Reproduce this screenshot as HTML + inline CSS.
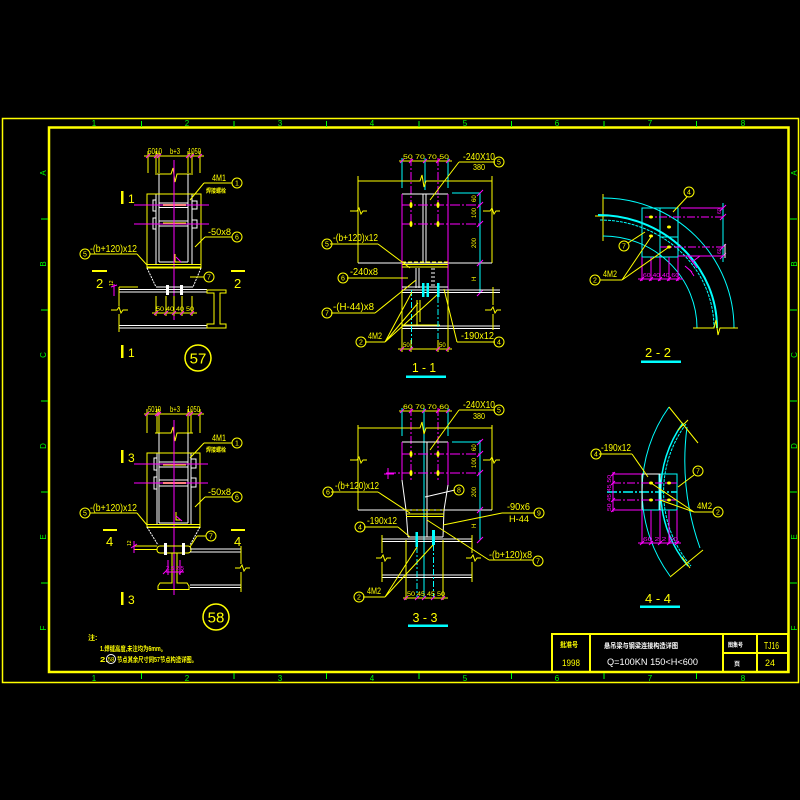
<!DOCTYPE html>
<html><head><meta charset="utf-8"><style>
html,body{margin:0;padding:0;background:#000;}
svg{display:block}
text{font-family:"Liberation Sans","Noto Sans CJK SC",sans-serif;}
</style></head><body>
<svg width="800" height="800" viewBox="0 0 800 800" xmlns="http://www.w3.org/2000/svg">
<rect width="800" height="800" fill="#000"/>

<!-- FRAME -->
<g fill="none" stroke="#ff0">
<rect x="2.5" y="118.5" width="796" height="564" stroke-width="1.5"/>
<rect x="49" y="127.5" width="739.5" height="544.5" stroke-width="2.5"/>
</g>
<g stroke="#0f0" stroke-width="1">
<path d="M141.5 121V127M234 121V127M326.5 121V127M419 121V127M511.5 121V127M604 121V127M696.5 121V127"/>
<path d="M141.5 673V679M234 673V679M326.5 673V679M419 673V679M511.5 673V679M604 673V679M696.5 673V679"/>
<path d="M41 219H48M41 310H48M41 401H48M41 492H48M41 583H48"/>
<path d="M790 219H797M790 310H797M790 401H797M790 492H797M790 583H797"/>
</g>
<g fill="#0f0" font-size="8" text-anchor="middle">
<text x="94" y="126">1</text><text x="187" y="126">2</text><text x="280" y="126">3</text><text x="372" y="126">4</text><text x="465" y="126">5</text><text x="557" y="126">6</text><text x="650" y="126">7</text><text x="743" y="126">8</text>
<text x="94" y="681">1</text><text x="187" y="681">2</text><text x="280" y="681">3</text><text x="372" y="681">4</text><text x="465" y="681">5</text><text x="557" y="681">6</text><text x="650" y="681">7</text><text x="743" y="681">8</text>
<text transform="translate(46,173) rotate(-90)">A</text><text transform="translate(46,264) rotate(-90)">B</text><text transform="translate(46,355) rotate(-90)">C</text><text transform="translate(46,446) rotate(-90)">D</text><text transform="translate(46,537) rotate(-90)">E</text><text transform="translate(46,628) rotate(-90)">F</text>
<text transform="translate(797,173) rotate(-90)">A</text><text transform="translate(797,264) rotate(-90)">B</text><text transform="translate(797,355) rotate(-90)">C</text><text transform="translate(797,446) rotate(-90)">D</text><text transform="translate(797,537) rotate(-90)">E</text><text transform="translate(797,628) rotate(-90)">F</text>
</g>

<!-- TITLE BLOCK -->
<g fill="none" stroke="#ff0" stroke-width="2">
<rect x="552" y="634" width="236" height="38"/>
<path d="M590 634V672M723 634V672M757 634V672M723 653H788"/>
</g>
<g font-weight="bold">
<text x="560" y="647" font-size="7" fill="#ff0" textLength="18" lengthAdjust="spacingAndGlyphs">批准号</text>
<text x="562" y="666" font-size="9" fill="#ff0" font-weight="normal" textLength="18" lengthAdjust="spacingAndGlyphs">1998</text>
<text x="604" y="648" font-size="7" fill="#fff" textLength="74" lengthAdjust="spacingAndGlyphs">悬吊梁与钢梁连接构造详图</text>
<text x="607" y="665" font-size="9" fill="#fff" font-weight="normal" textLength="91" lengthAdjust="spacingAndGlyphs">Q=100KN   150&lt;H&lt;600</text>
<text x="728" y="647" font-size="6" fill="#fff" textLength="15" lengthAdjust="spacingAndGlyphs">图集号</text>
<text x="764" y="649" font-size="10" fill="#ff0" font-weight="normal" textLength="15" lengthAdjust="spacingAndGlyphs">TJ16</text>
<text x="734" y="666" font-size="6" fill="#fff">页</text>
<text x="765" y="666" font-size="9" fill="#ff0" font-weight="normal" textLength="10" lengthAdjust="spacingAndGlyphs">24</text>
</g>

<!-- NOTES -->
<g fill="#ff0" font-weight="bold">
<text x="88" y="640" font-size="7">注:</text>
<text x="100" y="651" font-size="7" textLength="66" lengthAdjust="spacingAndGlyphs">1.焊缝高度,未注均为6mm。</text>
<text x="100" y="662" font-size="7" textLength="8" lengthAdjust="spacingAndGlyphs">2.</text>
<text x="117" y="662" font-size="7" textLength="80" lengthAdjust="spacingAndGlyphs">节点其余尺寸同57节点构造详图。</text>
</g>
<circle cx="111" cy="659" r="4.5" fill="none" stroke="#fff" stroke-width="1"/>
<text x="111" y="661.5" font-size="6" fill="#ff0" text-anchor="middle">58</text>

<!-- ============ DETAIL 57 ============ -->
<g fill="none" stroke-width="1">
<path stroke="#ff0" d="M144 156H204M148 151V173M156 151V173M159 151V173M188 151V173M192 151V173M200 151V173"/>
<path stroke="#f0f" d="M146 158L150 154M154 158L158 154M157 158L161 154M186 158L190 154M190 158L194 154M198 158L202 154"/>
<path stroke="#ff0" d="M155 174H171L173 168L175 182L177 174H193"/>
<path stroke="#fff" d="M159 174V262M188 174V262M156 194V265M192 194V265"/>
<rect x="147" y="194" width="54" height="73" stroke="#ff0"/>
<path stroke="#fff" d="M159 203H188M159 207.5H188M159 221H188M159 226H188M159 262H188"/>
<path stroke="#ff0" stroke-width="2" d="M163 205H186M163 223.5H186"/>
<path stroke="#fff" d="M156 200H153V211H156M156 218H153V229H156M192 201H197V209H192M192 220H197V228H192"/>
<path stroke="#f0f" d="M134 205H209M134 224H209M174 160V320"/>
<rect x="147" y="264.5" width="54" height="3.5" stroke="#ff0"/>
<path stroke="#fff" stroke-dasharray="2 1" d="M147 268L156 287M201 268L193 287"/>
<path stroke="#fff" d="M156 287H193M119 289.5H207M119 292H207M119 325.5H207M119 328H207"/>
<path stroke="#ff0" d="M119 287V306M111 310H117L119 307L121 313L123 310H128M119 314V332M119 287H138"/>
<path stroke="#ff0" d="M207 290H226V293H220V324H226V328H207V324H214V293H207Z"/>
<path stroke="#f0f" d="M114 284V296M111 287L117 285"/>
<path stroke="#ff0" d="M152 313H197M156 296V316M166 296V316M174 296V316M182 296V316M192 296V316"/>
<path stroke="#f0f" d="M154 315L158 311M164 315L168 311M172 315L176 311M180 315L184 311M190 315L194 311"/>
<path stroke="#ff0" d="M204 183H232L232 183M204 183L190 200M205 237H232M205 237L195 247M137 254H90M137 254L147 265M190 277H204M175 254V262H180"/>
<path stroke="#f0f" d="M176 257L181 262"/>
<path stroke="#ff0" stroke-width="2" d="M92 271H107M231 271H245"/>
<circle cx="237" cy="183" r="5" stroke="#ff0"/>
<circle cx="237" cy="237" r="5" stroke="#ff0"/>
<circle cx="85" cy="254" r="5" stroke="#ff0"/>
<circle cx="209" cy="277" r="5" stroke="#ff0"/>
<circle cx="198" cy="358" r="13" stroke="#ff0" stroke-width="1.5"/>
</g>
<rect x="166" y="285" width="3" height="10" fill="#fff"/>
<rect x="180" y="285" width="3" height="10" fill="#fff"/>
<rect x="121" y="191" width="2.5" height="13" fill="#ff0"/>
<rect x="121" y="345" width="2.5" height="13" fill="#ff0"/>
<g fill="#ff0">
<text x="148" y="154" font-size="8" textLength="14" lengthAdjust="spacingAndGlyphs">5010</text>
<text x="170" y="154" font-size="8" textLength="10" lengthAdjust="spacingAndGlyphs">b+3</text>
<text x="188" y="154" font-size="8" textLength="13" lengthAdjust="spacingAndGlyphs">1050</text>
<text x="156" y="311" font-size="6" textLength="38" lengthAdjust="spacingAndGlyphs">50 40 40 50</text>
<text x="128" y="203" font-size="12">1</text>
<text x="128" y="357" font-size="12">1</text>
<text x="96" y="288" font-size="13">2</text>
<text x="234" y="288" font-size="13">2</text>
<text x="212" y="181" font-size="9" textLength="14" lengthAdjust="spacingAndGlyphs">4M1</text>
<text x="206" y="193" font-size="6" font-weight="bold" textLength="20" lengthAdjust="spacingAndGlyphs">焊接螺栓</text>
<text x="208" y="235" font-size="9" textLength="23" lengthAdjust="spacingAndGlyphs">-50x8</text>
<text x="90" y="252" font-size="10" textLength="47" lengthAdjust="spacingAndGlyphs">-(b+120)x12</text>
<text transform="translate(113,286) rotate(-90)" font-size="5">12</text>
<text x="198" y="363.5" font-size="15" text-anchor="middle">57</text>
<g font-size="7" text-anchor="middle"><text x="237" y="185.5">1</text><text x="237" y="239.5">6</text><text x="85" y="256.5">5</text><text x="209" y="279.5">7</text></g>
</g>

<!-- ============ DETAIL 58 ============ -->
<g fill="none" stroke-width="1">
<path stroke="#ff0" d="M144 414H204M147 409V433M157 409V433M159 409V433M188 409V433M191 409V433M200 409V433"/>
<path stroke="#f0f" d="M145 416L149 412M155 416L159 412M157 416L161 412M186 416L190 412M189 416L193 412M198 416L202 412"/>
<path stroke="#ff0" d="M155 433H171L173 427L175 441L177 433H193"/>
<path stroke="#fff" d="M159 433V523M188 433V523M157 453V525M191 453V525"/>
<rect x="147" y="453" width="53" height="74" stroke="#ff0"/>
<path stroke="#fff" d="M159 462H188M159 467H188M159 480H188M159 486H188M159 523H188"/>
<path stroke="#ff0" stroke-width="2" d="M163 464.5H186M163 483H186"/>
<path stroke="#fff" d="M157 458H154V470H157M157 477H154V489H157M191 459H196V468H191M191 478H196V487H191"/>
<path stroke="#f0f" d="M134 464H208M134 483H208M174 420V595"/>
<rect x="147" y="524.5" width="53" height="3" stroke="#ff0"/>
<path stroke="#fff" stroke-dasharray="2 1" d="M147 527L158 545M200 527L190 545"/>
<rect x="157" y="546" width="34" height="7" rx="3" stroke="#ff0"/>
<path stroke="#fff" d="M190 549H241M190 552H241M190 585H241M190 587.5H241"/>
<path stroke="#ff0" d="M241 546V564M235 568H240L242 565L244 571L246 568H250M241 572V592M134 546H157M134 549.5H157"/>
<path stroke="#ff0" d="M172 553V583H160L158 586V589.5H189V586L187 583H177V553"/>
<path stroke="#f0f" d="M134 541V553M131 548L137 544M166 572H184M168 560V575M180 560V575M163 574L167 570M179 574L183 570"/>
<path stroke="#ff0" d="M204 443H232M204 443L190 458M205 497H232M205 497L195 507M137 513H90M137 513L147 525M197 536H206M197 536L190 547M176 512V520H181"/>
<path stroke="#f0f" d="M176 516L182 521"/>
<path stroke="#ff0" stroke-width="2" d="M103 530H117M231 530H245"/>
<circle cx="237" cy="443" r="5" stroke="#ff0"/>
<circle cx="237" cy="497" r="5" stroke="#ff0"/>
<circle cx="85" cy="513" r="5" stroke="#ff0"/>
<circle cx="211" cy="536" r="5" stroke="#ff0"/>
<circle cx="216" cy="617" r="13" stroke="#ff0" stroke-width="1.5"/>
</g>
<rect x="164" y="543" width="3" height="12" fill="#fff"/>
<rect x="182" y="543" width="3" height="12" fill="#fff"/>
<rect x="121" y="450" width="2.5" height="13" fill="#ff0"/>
<rect x="121" y="592" width="2.5" height="13" fill="#ff0"/>
<g fill="#ff0">
<text x="148" y="412" font-size="8" textLength="13" lengthAdjust="spacingAndGlyphs">5010</text>
<text x="170" y="412" font-size="8" textLength="10" lengthAdjust="spacingAndGlyphs">b+3</text>
<text x="187" y="412" font-size="8" textLength="13" lengthAdjust="spacingAndGlyphs">1050</text>
<text x="128" y="462" font-size="12">3</text>
<text x="128" y="604" font-size="12">3</text>
<text x="106" y="546" font-size="13">4</text>
<text x="234" y="546" font-size="13">4</text>
<text x="212" y="441" font-size="9" textLength="14" lengthAdjust="spacingAndGlyphs">4M1</text>
<text x="206" y="452" font-size="6" font-weight="bold" textLength="20" lengthAdjust="spacingAndGlyphs">焊接螺栓</text>
<text x="208" y="495" font-size="9" textLength="23" lengthAdjust="spacingAndGlyphs">-50x8</text>
<text x="90" y="511" font-size="10" textLength="47" lengthAdjust="spacingAndGlyphs">-(b+120)x12</text>
<text transform="translate(131,546) rotate(-90)" font-size="5">12</text>
<text x="216" y="622.5" font-size="15" text-anchor="middle">58</text>
<g font-size="7" text-anchor="middle"><text x="237" y="445.5">1</text><text x="237" y="499.5">6</text><text x="85" y="515.5">5</text><text x="211" y="538.5">7</text></g>
</g>
<text x="166" y="570" font-size="5" fill="#f0f" textLength="18" lengthAdjust="spacingAndGlyphs">2.5 2.5</text>

<!-- ============ SECTION 1-1 ============ -->
<g fill="none" stroke-width="1">
<path stroke="#ff0" d="M399 161H452"/>
<path stroke="#0ff" d="M402 158V188M448 158V188M425 158V190"/>
<path stroke="#f0f" stroke-dasharray="8 2 2 2" d="M411 158V228M438 158V228"/>
<path stroke="#f0f" d="M400 163L404 159M409 163L413 159M423 163L427 159M436 163L440 159M446 163L450 159"/>
<path stroke="#ff0" d="M358 176V263M358 181H420L422 175L424 187L426 181H492M492 176V263M350 211H357L359 208L361 214L363 211H367M483 211H490L492 208L494 214L496 211H500"/>
<path stroke="#fff" d="M358 263H492M402 194H448M423 194V263M426 194V263"/>
<path stroke="#f0f" d="M402 194V290M448 194V290"/>
<path stroke="#f0f" stroke-dasharray="10 2 2 2" d="M402 205H482M402 224H482"/>
<path stroke="#0ff" d="M480 193V293M452 193H480"/>
<path stroke="#f0f" d="M477 196L483 190M477 208L483 202M477 227L483 221M477 266L483 260M477 296L483 290"/>
<path stroke="#ff0" d="M402 264.5H448M402 267H448"/>
<path stroke="#ff0" stroke-dasharray="4 2" d="M402 262H448"/>
<path stroke="#fff" d="M402 287H448M402 290H500M402 292.5H500M402 326H500M402 328.5H500M416 268V288M419 268V288"/>
<path stroke="#fff" stroke-dasharray="2 2" d="M432 268V288M434 268V288"/>
<path stroke="#ff0" d="M402 290V352M448 290V352M493 287V305M485 310H491L493 307L495 313L497 310H501M493 314V330M417 300V325H440M420 300V322M402 325H417"/>
<path stroke="#0ff" stroke-dasharray="6 2 2 2" d="M411.5 290V350M438 297V350"/>
<path stroke="#ff0" d="M398 349H452M411 340V352M438 340V352"/>
<path stroke="#f0f" d="M400 351L404 347M409 351L413 347M436 351L440 347M446 351L450 347"/>
<path stroke="#ff0" d="M459 162H495M459 162L430 200M330 244H378M378 244L410 268M347 278H408M331 313H375M375 313L416 280M365 342H385M385 342L412 292M385 342L418 303M385 342L438 294M457 342H495M457 342L444 289"/>
<circle cx="499" cy="162" r="5" stroke="#ff0"/>
<circle cx="327" cy="244" r="5" stroke="#ff0"/>
<circle cx="343" cy="278" r="5" stroke="#ff0"/>
<circle cx="327" cy="313" r="5" stroke="#ff0"/>
<circle cx="361" cy="342" r="5" stroke="#ff0"/>
<circle cx="499" cy="342" r="5" stroke="#ff0"/>
</g>
<g fill="#ff0">
<ellipse cx="411" cy="205" rx="1.5" ry="3"/><ellipse cx="438" cy="205" rx="1.5" ry="3"/>
<ellipse cx="411" cy="224" rx="1.5" ry="3"/><ellipse cx="438" cy="224" rx="1.5" ry="3"/>
</g>
<g fill="#0ff">
<rect x="422" y="283" width="2.5" height="14"/><rect x="426.5" y="283" width="2.5" height="14"/><rect x="437" y="283" width="2.5" height="14"/>
<rect x="406" y="375.5" width="40" height="2.5"/>
</g>
<g fill="#ff0">
<text x="403" y="159" font-size="6" textLength="46" lengthAdjust="spacingAndGlyphs">50  70  70  50</text>
<text x="463" y="160" font-size="10" textLength="32" lengthAdjust="spacingAndGlyphs">-240X10</text>
<text x="473" y="170" font-size="8" textLength="12" lengthAdjust="spacingAndGlyphs">380</text>
<text transform="translate(476,202) rotate(-90)" font-size="6">60</text>
<text transform="translate(476,218) rotate(-90)" font-size="6">100</text>
<text transform="translate(476,248) rotate(-90)" font-size="6">200</text>
<text transform="translate(476,281) rotate(-90)" font-size="6">H</text>
<text x="403" y="347" font-size="6">50</text><text x="439" y="347" font-size="6">50</text>
<text x="333" y="241" font-size="10" textLength="45" lengthAdjust="spacingAndGlyphs">-(b+120)x12</text>
<text x="350" y="275" font-size="10" textLength="28" lengthAdjust="spacingAndGlyphs">-240x8</text>
<text x="333" y="310" font-size="10" textLength="41" lengthAdjust="spacingAndGlyphs">-(H-44)x8</text>
<text x="368" y="339" font-size="9" textLength="14" lengthAdjust="spacingAndGlyphs">4M2</text>
<text x="461" y="339" font-size="10" textLength="33" lengthAdjust="spacingAndGlyphs">-190x12</text>
<text x="424" y="372" font-size="13" text-anchor="middle" textLength="24" lengthAdjust="spacingAndGlyphs">1 - 1</text>
<g font-size="7" text-anchor="middle"><text x="499" y="164.5">5</text><text x="327" y="246.5">5</text><text x="343" y="280.5">6</text><text x="327" y="315.5">7</text><text x="361" y="344.5">2</text><text x="499" y="344.5">4</text></g>
</g>

<!-- ============ SECTION 3-3 ============ -->
<g fill="none" stroke-width="1">
<path stroke="#ff0" d="M399 411H452"/>
<path stroke="#0ff" d="M402 408V436M448 408V436M424 408V597"/>
<path stroke="#f0f" stroke-dasharray="8 2 2 2" d="M411 408V480M438 408V480"/>
<path stroke="#f0f" d="M400 413L404 409M409 413L413 409M422 413L426 409M436 413L440 409M446 413L450 409"/>
<path stroke="#ff0" d="M358 425V510M358 428H420L422 422L424 434L426 428H492M492 425V510M350 460H357L359 457L361 463L363 460H367M483 460H490L492 457L494 463L496 460H500"/>
<path stroke="#fff" d="M358 510H492M402 442H448M402 442V480L406 510L408 537M448 442V485L444 510L443 537M427 442V537M408 537H443"/>
<path stroke="#f0f" d="M402 442V480M448 442V485"/>
<path stroke="#f0f" stroke-dasharray="10 2 2 2" d="M402 454H482M386 473H482"/>
<path stroke="#f0f" d="M388 468V479M384 474H394"/>
<path stroke="#0ff" d="M480 440V540M452 442H480"/>
<path stroke="#f0f" d="M477 445L483 439M477 457L483 451M477 476L483 470M477 513L483 507M477 543L483 537"/>
<path stroke="#ff0" d="M406 514H444M406 516.5H444"/>
<path stroke="#ff0" stroke-dasharray="4 2" d="M406 510H444"/>
<path stroke="#fff" d="M382 539H472M382 541.5H472M382 575H472M382 577.5H472M425 497L455 490"/>
<path stroke="#ff0" d="M382 535V553M376 558H381L383 555L385 561L387 558H391M382 562V582M472 535V553M466 558H471L473 555L475 561L477 558H481M472 562V582M406 540V600M443 540V600"/>
<path stroke="#0ff" stroke-dasharray="6 2 2 2" d="M417 547V597M433.5 545V597"/>
<path stroke="#ff0" d="M403 598H448"/>
<path stroke="#f0f" d="M404 600L408 596M415 600L419 596M422 600L426 596M431 600L435 596M441 600L445 596"/>
<path stroke="#ff0" d="M459 410H495M459 410L430 450M331 492H378M378 492L410 513M364 527H398M398 527L410 537M363 597H385M385 597L417 547M385 597L433 545M502 513H535M502 513L443 525M489 560H533M489 560L427 520"/>
<circle cx="499" cy="410" r="5" stroke="#ff0"/>
<circle cx="328" cy="492" r="5" stroke="#ff0"/>
<circle cx="360" cy="527" r="5" stroke="#ff0"/>
<circle cx="359" cy="597" r="5" stroke="#ff0"/>
<circle cx="459" cy="490" r="5" stroke="#ff0"/>
<circle cx="539" cy="513" r="5" stroke="#ff0"/>
<circle cx="538" cy="561" r="5" stroke="#ff0"/>
</g>
<g fill="#ff0">
<ellipse cx="411" cy="454" rx="1.5" ry="3"/><ellipse cx="438" cy="454" rx="1.5" ry="3"/>
<ellipse cx="411" cy="473" rx="1.5" ry="3"/><ellipse cx="438" cy="473" rx="1.5" ry="3"/>
</g>
<g fill="#0ff">
<rect x="415.5" y="532" width="2.5" height="15"/><rect x="432" y="530" width="3" height="15"/>
<rect x="408" y="624.5" width="40" height="2.5"/>
</g>
<g fill="#ff0">
<text x="403" y="409" font-size="6" textLength="46" lengthAdjust="spacingAndGlyphs">60  70  70  60</text>
<text x="463" y="408" font-size="10" textLength="32" lengthAdjust="spacingAndGlyphs">-240X10</text>
<text x="473" y="419" font-size="8" textLength="12" lengthAdjust="spacingAndGlyphs">380</text>
<text transform="translate(476,451) rotate(-90)" font-size="6">60</text>
<text transform="translate(476,468) rotate(-90)" font-size="6">100</text>
<text transform="translate(476,497) rotate(-90)" font-size="6">200</text>
<text transform="translate(476,528) rotate(-90)" font-size="6">H</text>
<text x="407" y="596" font-size="6" textLength="38" lengthAdjust="spacingAndGlyphs">50 45 45 50</text>
<text x="335" y="489" font-size="10" textLength="44" lengthAdjust="spacingAndGlyphs">-(b+120)x12</text>
<text x="367" y="524" font-size="10" textLength="30" lengthAdjust="spacingAndGlyphs">-190x12</text>
<text x="367" y="594" font-size="9" textLength="14" lengthAdjust="spacingAndGlyphs">4M2</text>
<text x="507" y="510" font-size="10" textLength="23" lengthAdjust="spacingAndGlyphs">-90x6</text>
<text x="509" y="522" font-size="9" textLength="20" lengthAdjust="spacingAndGlyphs">H-44</text>
<text x="489" y="558" font-size="10" textLength="43" lengthAdjust="spacingAndGlyphs">-(b+120)x8</text>
<text x="425" y="622" font-size="13" text-anchor="middle" textLength="25" lengthAdjust="spacingAndGlyphs">3 - 3</text>
<g font-size="7" text-anchor="middle"><text x="499" y="412.5">5</text><text x="328" y="494.5">6</text><text x="360" y="529.5">4</text><text x="359" y="599.5">2</text><text x="459" y="492.5">8</text><text x="539" y="515.5">9</text><text x="538" y="563.5">7</text></g>
</g>

<!-- ============ SECTION 2-2 ============ -->
<g fill="none" stroke-width="1">
<path stroke="#ff0" d="M603 194V241M595 216H612"/>
<path stroke="#0ff" d="M603 198A131 130 0 0 1 734 328M603 236A94 92 0 0 1 697 328"/>
<path stroke="#0ff" stroke-width="2" d="M598 215A119 113 0 0 1 717 328"/>
<path stroke="#0ff" stroke-dasharray="3 1" d="M600 220A114 108 0 0 1 714 328"/>
<rect x="642" y="208" width="36" height="49" stroke="#0ff"/>
<path stroke="#0ff" d="M660 208V257M660 237H678M723 203V262"/>
<path stroke="#f0f" d="M681 208H723M678 256H723M642 257V281M651 257V281M660 257V281M669 257V281M678 257V281M638 279H683"/>
<path stroke="#f0f" stroke-dasharray="8 2 2 2" d="M645 217H723M660 247H723"/>
<path stroke="#f0f" d="M720 211L726 205M720 220L726 214M720 250L726 244M720 259L726 253M640 281L644 277M649 281L653 277M658 281L662 277M667 281L671 277M676 281L680 277"/>
<path stroke="#f0f" d="M688 256L697 268M692 262L700 256M685 266L692 272M690 270L694 276"/>
<path stroke="#fff" d="M725 244V258"/>
<path stroke="#ff0" d="M687 197L673 212M628 243L645 232M600 280H622M622 280L651 237M622 280L669 247M693 328H714L716 320L718 335L720 328H738"/>
<circle cx="689" cy="192" r="5" stroke="#ff0"/>
<circle cx="624" cy="246" r="5" stroke="#ff0"/>
<circle cx="595" cy="280" r="5" stroke="#ff0"/>
</g>
<g fill="#ff0">
<ellipse cx="651" cy="217" rx="2" ry="1.5"/><ellipse cx="669" cy="227" rx="2" ry="1.5"/>
<ellipse cx="651" cy="236" rx="2" ry="1.5"/><ellipse cx="669" cy="247" rx="2" ry="1.5"/>
</g>
<rect x="641" y="360.5" width="40" height="2.5" fill="#0ff"/>
<g fill="#f0f" font-size="5">
<text x="643" y="277" textLength="36" lengthAdjust="spacingAndGlyphs">60 40 40 60</text>
<text transform="translate(721,214) rotate(-90)">60</text>
<text transform="translate(721,254) rotate(-90)">60</text>
</g>
<g fill="#ff0">
<text x="603" y="277" font-size="9" textLength="14" lengthAdjust="spacingAndGlyphs">4M2</text>
<text x="658" y="357" font-size="13" text-anchor="middle" textLength="26" lengthAdjust="spacingAndGlyphs">2 - 2</text>
<g font-size="7" text-anchor="middle"><text x="689" y="194.5">4</text><text x="624" y="248.5">7</text><text x="595" y="282.5">2</text></g>
</g>

<!-- ============ SECTION 4-4 ============ -->
<g fill="none" stroke-width="1">
<path stroke="#0ff" d="M669 407A144 144 0 0 0 670 576M687 427A261 261 0 0 0 700 548"/>
<path stroke="#0ff" stroke-width="1.5" d="M683 423A116 116 0 0 0 688 566"/>
<path stroke="#0ff" stroke-dasharray="3 1" d="M686 424A114 114 0 0 0 691 566"/>
<path stroke="#ff0" d="M669 407L698 443M678 430L688 420M670 577L703 550M682 557L690 568"/>
<rect x="642" y="474" width="35" height="36" stroke="#0ff"/>
<path stroke="#0ff" d="M659 474V510"/>
<path stroke="#0ff" stroke-width="1.5" stroke-dasharray="10 2 2 2" d="M607 492H677"/>
<path stroke="#fff" d="M642 474V537M660 474V537M642 474H660"/>
<path stroke="#f0f" stroke-dasharray="8 2 2 2" d="M613 483H677M613 500H677"/>
<path stroke="#f0f" d="M613 474H642M613 510H642M613 472V512M642 510V544M651 510V544M660 510V544M669 510V544M677 510V544M638 543H681"/>
<path stroke="#f0f" d="M611 476L615 472M611 485L615 481M611 502L615 498M611 512L615 508M640 545L644 541M649 545L653 541M658 545L662 541M667 545L671 541M675 545L679 541"/>
<path stroke="#ff0" d="M599 454H632M632 454L648 477M694 475L678 487M694 512H713M694 512L651 483M694 512L660 500"/>
<circle cx="596" cy="454" r="5" stroke="#ff0"/>
<circle cx="698" cy="471" r="5" stroke="#ff0"/>
<circle cx="718" cy="512" r="5" stroke="#ff0"/>
</g>
<g fill="#ff0">
<ellipse cx="651" cy="483" rx="2" ry="1.5"/><ellipse cx="669" cy="483" rx="2" ry="1.5"/>
<ellipse cx="651" cy="500" rx="2" ry="1.5"/><ellipse cx="669" cy="500" rx="2" ry="1.5"/>
</g>
<rect x="640" y="605.5" width="40" height="2.5" fill="#0ff"/>
<g fill="#f0f" font-size="5">
<text x="643" y="541" textLength="35" lengthAdjust="spacingAndGlyphs">60 2 2 60</text>
<text transform="translate(611,511) rotate(-90)" textLength="36" lengthAdjust="spacingAndGlyphs">50 45 45 50</text>
</g>
<g fill="#ff0">
<text x="601" y="451" font-size="10" textLength="30" lengthAdjust="spacingAndGlyphs">-190x12</text>
<text x="697" y="509" font-size="9" textLength="15" lengthAdjust="spacingAndGlyphs">4M2</text>
<text x="658" y="603" font-size="13" text-anchor="middle" textLength="26" lengthAdjust="spacingAndGlyphs">4 - 4</text>
<g font-size="7" text-anchor="middle"><text x="596" y="456.5">4</text><text x="698" y="473.5">7</text><text x="718" y="514.5">2</text></g>
</g>
</svg>
</body></html>
